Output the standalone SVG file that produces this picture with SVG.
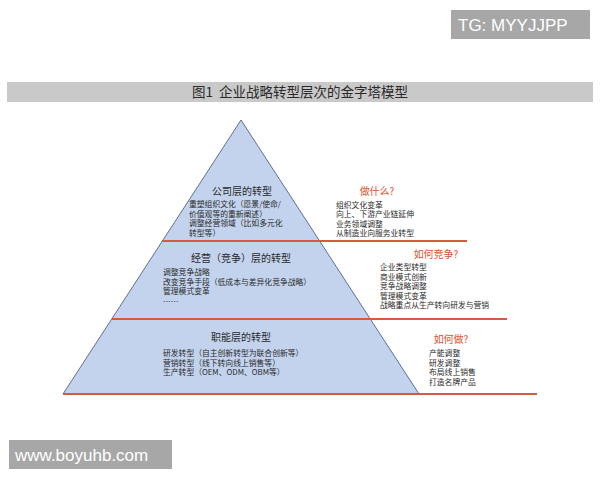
<svg xmlns="http://www.w3.org/2000/svg" width="600" height="480" viewBox="0 0 600 480">
<style>
text{font-family:"Liberation Sans","Noto Sans CJK SC",sans-serif;}
.cjk{font-family:"Noto Sans CJK SC","Liberation Sans",sans-serif;}
.hd{font-size:10px;fill:#2a2a2a;text-anchor:middle;}
.bd{font-size:7.8px;fill:#2a2a2a;}
.q{font-size:10px;fill:#d9532f;text-anchor:middle;}
.sep{stroke:#d65a3e;stroke-width:2;fill:none;}
.wm{fill:#a7a7a7;}
.wmt{fill:#ffffff;font-size:17px;}
</style>
<rect width="600" height="480" fill="#ffffff"/>
<g id="watermark-top">
<rect class="wm" x="451" y="10" width="139" height="29"/>
<text class="wmt" x="458" y="31">TG: MYYJJPP</text>
</g>
<g id="title">
<rect x="7" y="82" width="586" height="20" fill="#c9c9c9"/>
<text class="cjk" x="300" y="97" font-size="13.5" fill="#2a2a2a" text-anchor="middle" xml:space="preserve">图1  企业战略转型层次的金字塔模型</text>
</g>
<g id="pyramid">
<polygon points="241,120 419,394 63,394" fill="#c3d3ed" stroke="#5c6f94" stroke-width="1"/>
</g>
<g id="connectors">
<line class="sep" x1="162" y1="241" x2="467" y2="241"/>
<line class="sep" x1="112" y1="319" x2="507" y2="319"/>
<line class="sep" x1="63" y1="394" x2="537" y2="394"/>
</g>
<g id="tier-company">
<text class="hd cjk" x="242" y="195">公司层的转型</text>
<text class="bd cjk" x="189" y="207">重塑组织文化（愿景/使命/</text>
<text class="bd cjk" x="189" y="216.5">价值观等的重新阐述）</text>
<text class="bd cjk" x="189" y="226">调整经营领域（比如多元化</text>
<text class="bd cjk" x="189" y="235.5">转型等）</text>
</g>
<g id="what">
<text class="q cjk" x="377" y="195">做什么?</text>
<text class="bd cjk" x="336" y="207.5">组织文化变革</text>
<text class="bd cjk" x="336" y="217">向上、下游产业链延伸</text>
<text class="bd cjk" x="336" y="226.5">业务领域调整</text>
<text class="bd cjk" x="336" y="236">从制造业向服务业转型</text>
</g>
<g id="tier-business">
<text class="hd cjk" x="241" y="262">经营（竞争）层的转型</text>
<text class="bd cjk" x="163" y="275">调整竞争战略</text>
<text class="bd cjk" x="163" y="284.5">改变竞争手段（低成本与差异化竞争战略）</text>
<text class="bd cjk" x="163" y="294">管理模式变革</text>
<text class="bd cjk" x="163" y="305">……</text>
</g>
<g id="how-compete">
<text class="q cjk" x="436" y="258">如何竞争?</text>
<text class="bd cjk" x="380" y="270">企业类型转型</text>
<text class="bd cjk" x="380" y="279.5">商业模式创新</text>
<text class="bd cjk" x="380" y="289">竞争战略调整</text>
<text class="bd cjk" x="380" y="298.5">管理模式变革</text>
<text class="bd cjk" x="380" y="308">战略重点从生产转向研发与营销</text>
</g>
<g id="tier-function">
<text class="hd cjk" x="241" y="341">职能层的转型</text>
<text class="bd cjk" x="163" y="356">研发转型（自主创新转型为联合创新等）</text>
<text class="bd cjk" x="163" y="365.5">营销转型（线下转向线上销售等）</text>
<text class="bd cjk" x="163" y="375">生产转型（OEM、ODM、OBM等）</text>
</g>
<g id="how-do">
<text class="q cjk" x="451" y="343">如何做?</text>
<text class="bd cjk" x="429" y="356">产能调整</text>
<text class="bd cjk" x="429" y="365.5">研发调整</text>
<text class="bd cjk" x="429" y="375">布局线上销售</text>
<text class="bd cjk" x="429" y="384.5">打造名牌产品</text>
</g>
<g id="watermark-bottom">
<rect class="wm" x="9" y="440" width="163" height="29"/>
<text class="wmt" x="15" y="461">www.boyuhb.com</text>
</g>
</svg>
